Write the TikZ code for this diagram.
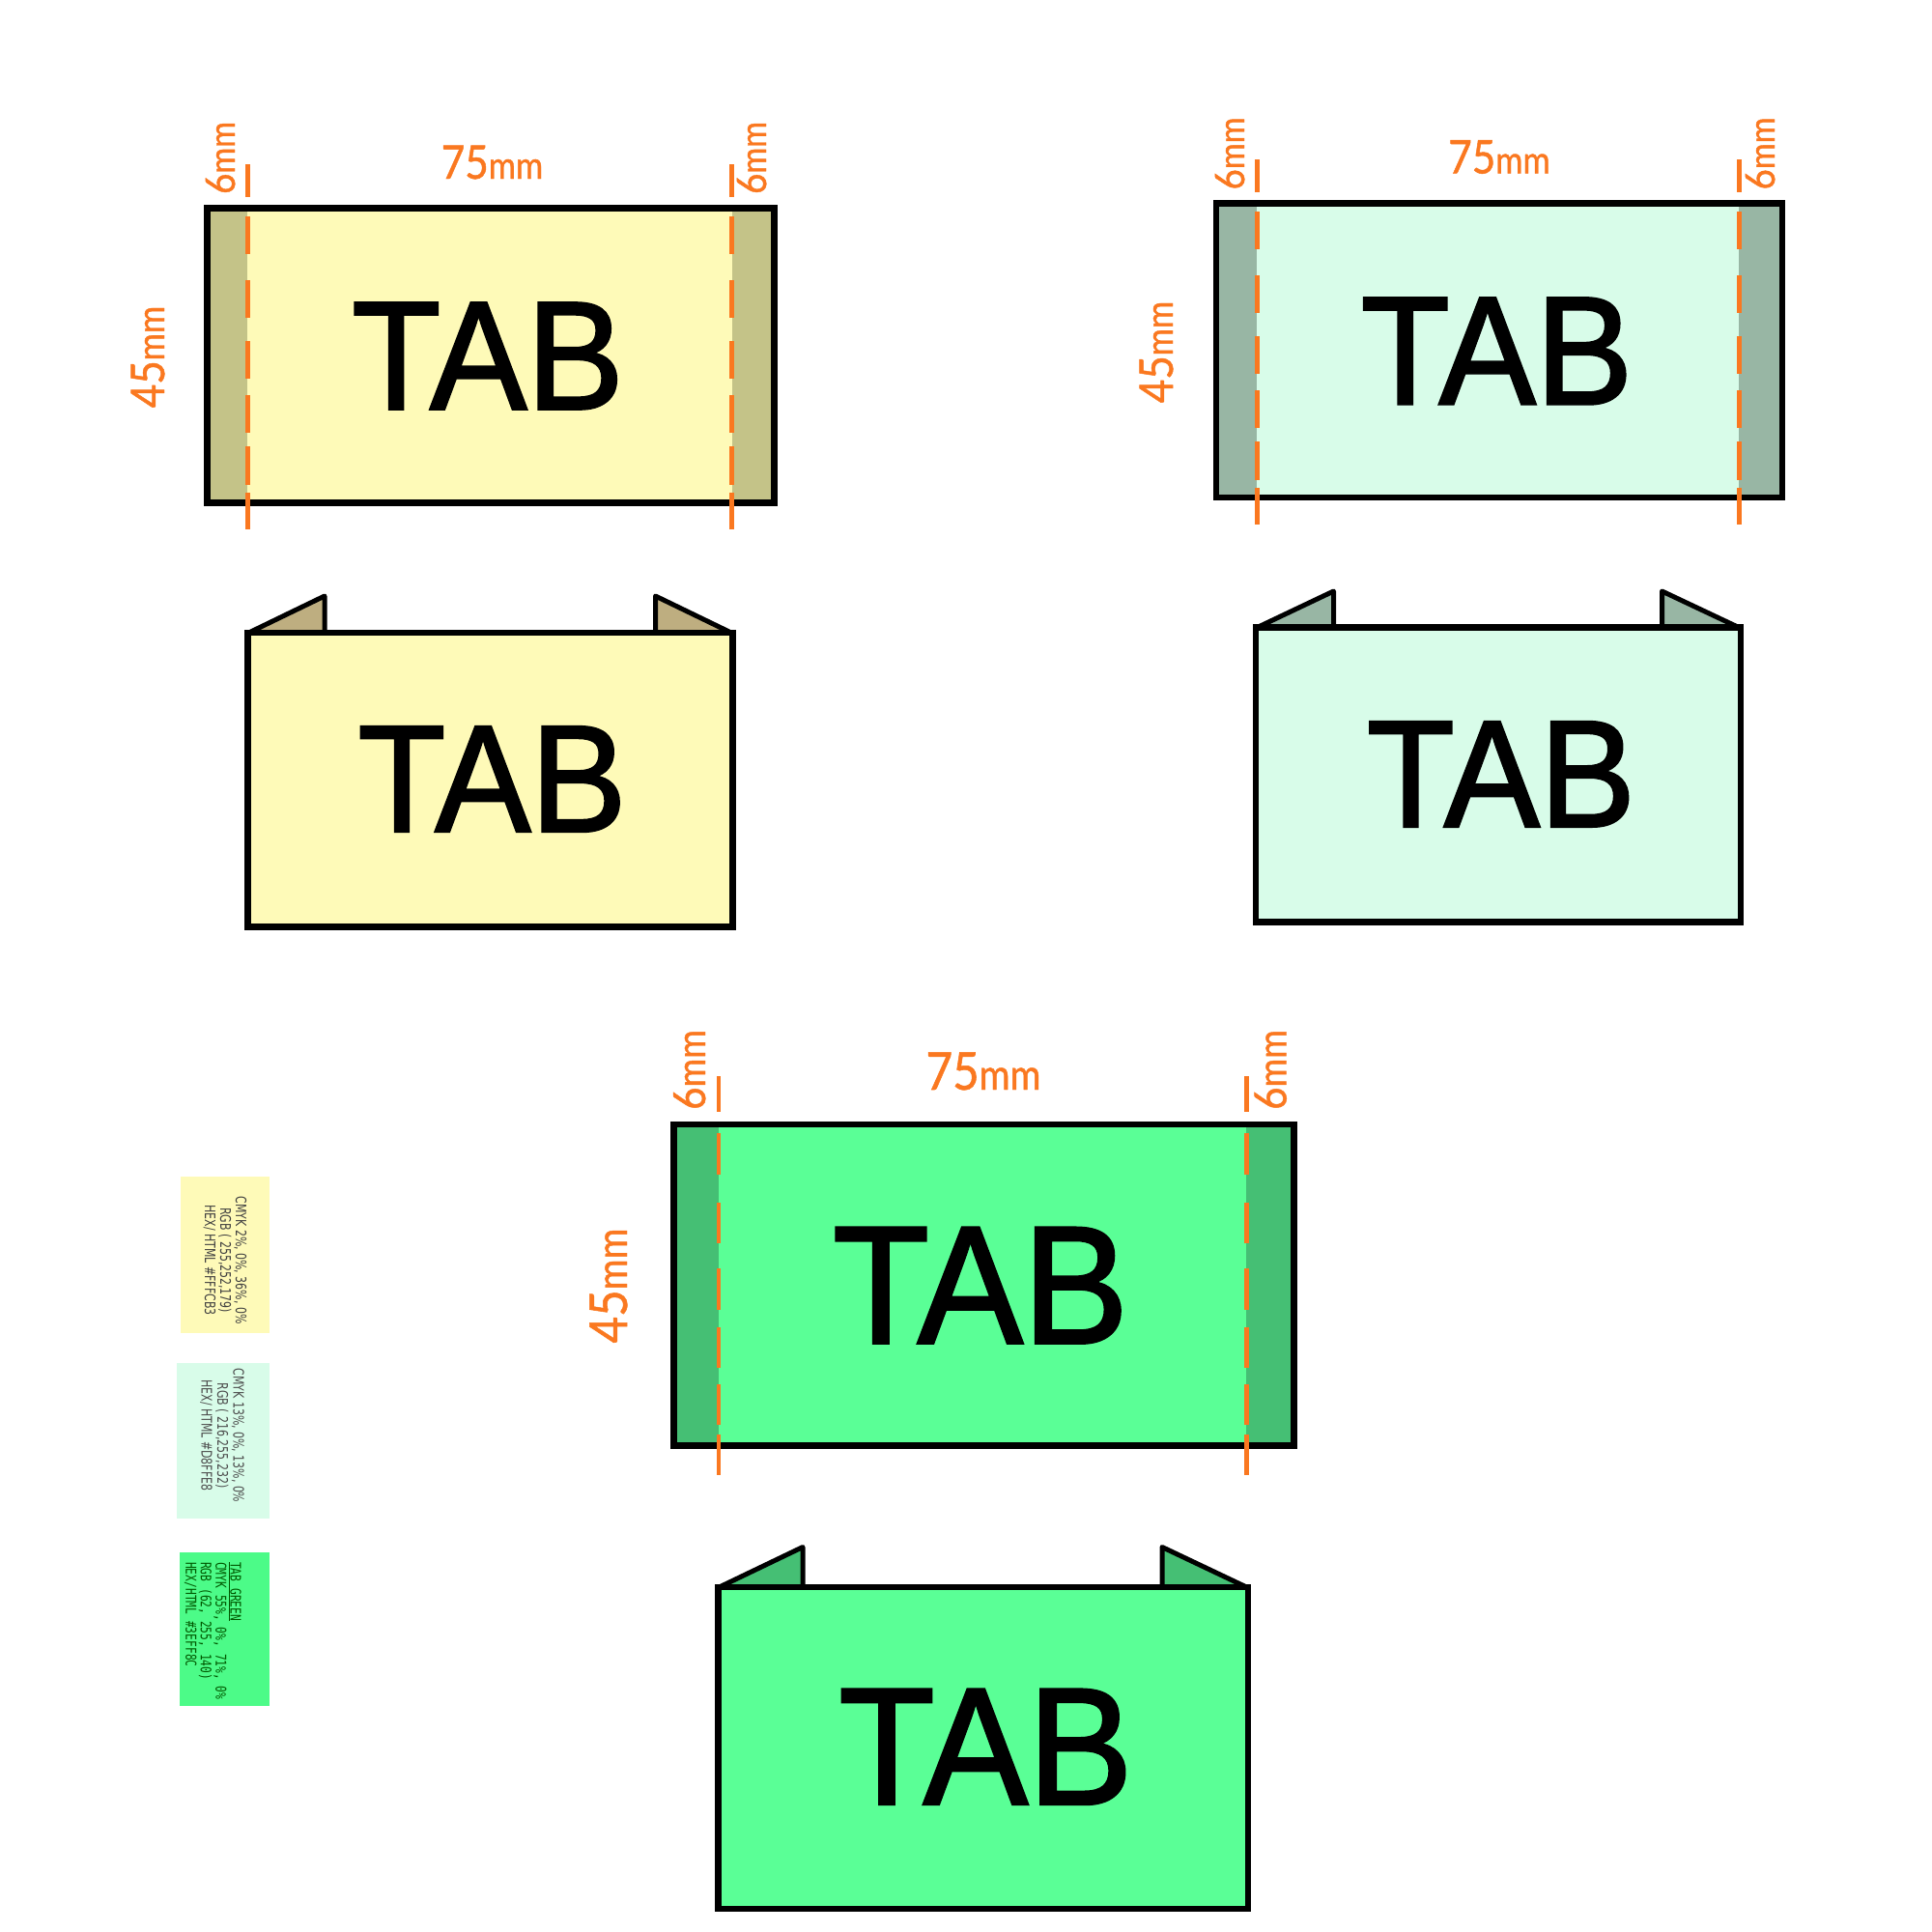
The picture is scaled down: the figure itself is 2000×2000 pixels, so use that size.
\documentclass[tikz,border=0pt]{standalone}
\usepackage{fontspec}
\setmainfont{Liberation Sans}
\newfontfamily\tabfont[FakeStretch=0.94,FakeBold=1.6]{Liberation Sans}
\newfontfamily\sizefont[FakeStretch=0.88,FakeBold=1]{Lato}
\newfontfamily\notefont[FakeStretch=0.73]{DejaVu Sans}
\newfontfamily\monofont[FakeStretch=0.75]{DejaVu Sans Mono}
\definecolor{yellowface}{HTML}{FEFAB8}
\definecolor{yellowtab}{HTML}{C4C388}
\definecolor{yellowflap}{HTML}{BEAE80}
\definecolor{tealface}{HTML}{D8FCE9}
\definecolor{tealtab}{HTML}{98B6A4}
\definecolor{greenface}{HTML}{5AFF96}
\definecolor{greentab}{HTML}{45BF74}
\definecolor{greenswatch}{HTML}{4CFB88}
\definecolor{cutline}{HTML}{FA7820}
\newcommand{\bigsize}[2]{{\fontsize{48}{48}\selectfont #1}{\fontsize{39}{39}\selectfont #2}}
\newcommand{\smallsize}[2]{{\fontsize{42}{42}\selectfont #1}{\fontsize{37}{37}\selectfont #2}}
\newcommand{\biggreen}[2]{{\fontsize{54}{54}\selectfont #1}{\fontsize{44}{44}\selectfont #2}}
\newcommand{\smallgreen}[2]{{\fontsize{46}{46}\selectfont #1}{\fontsize{41}{41}\selectfont #2}}
\begin{document}
\begin{tikzpicture}[x=1pt,y=-1pt,
  sheet/.style={rectangle,draw=black,line width=6.5pt,inner sep=0,outer sep=0},
  tabface/.style={rectangle,inner sep=0,outer sep=0,minimum height=1pt},
  flap/.style={draw=black,line width=5pt,line join=round},
  cut/.style={draw=cutline,line width=4.5pt},
  cutplain/.style={cut,dash pattern=on 34pt off 20pt on 39pt off 27pt on 39pt off 24pt on 39pt off 17pt on 39pt off 14pt on 40pt off 8pt on 38pt off 60pt},
  cutgreen/.style={cut,dash pattern=on 37pt off 22pt on 43pt off 29pt on 42pt off 26pt on 43pt off 18pt on 42pt off 17pt on 42pt off 10pt on 42pt off 60pt},
  sizelabel/.style={text=cutline,font=\sizefont,inner sep=0,anchor=base},
  tablabel/.style={font=\tabfont,inner sep=0,text=black},
  swatch/.style={rectangle,inner sep=0,outer sep=0}]
  \useasboundingbox (0,0) rectangle (2000,2000);
  % yellow, flat
  \node[sheet,fill=yellowface,minimum width=587pt,minimum height=305pt] (Ysheet) at (508,368) {};
  \node[tabface,fill=yellowtab,minimum width=38.5pt,minimum height=298.5pt] (Ytab1) at (237,368) {};
  \node[tabface,fill=yellowtab,minimum width=40.75pt,minimum height=298.5pt] (Ytab2) at (777.9,368) {};
  \node[tablabel] (Ytext) at (505,368.5) {\fontsize{160}{160}\selectfont TAB};
  \coordinate (Yc1) at (256.5,170);
  \coordinate (Yd1) at (256.5,548);
  \coordinate (Yc2) at (757.5,170);
  \coordinate (Yd2) at (757.5,548);
  \draw[cutplain] (Yc1) -- (Yd1);
  \draw[cutplain] (Yc2) -- (Yd2);
  \node[sizelabel] (Ywidth) at (509.5,185) {\bigsize{75}{mm}};
  \node[sizelabel,rotate=90] (Yleft) at (243,163.5) {\smallsize{6}{mm}};
  \node[sizelabel,rotate=90] (Yright) at (793,163.5) {\smallsize{6}{mm}};
  \node[sizelabel,rotate=90] (Yheight) at (170,369.5) {\bigsize{45}{mm}};
  % yellow, folded
  \coordinate (Yf1) at (256.5,655.5);
  \coordinate (Yf2) at (336,617);
  \coordinate (Yf3) at (336,655.5);
  \coordinate (Yf4) at (758,655.5);
  \coordinate (Yf5) at (678.5,617);
  \coordinate (Yf6) at (678.5,655.5);
  \draw[flap,fill=yellowflap] (Yf1) -- (Yf2) -- (Yf3) -- cycle;
  \draw[flap,fill=yellowflap] (Yf4) -- (Yf5) -- (Yf6) -- cycle;
  \node[sheet,fill=yellowface,minimum width=502pt,minimum height=304.5pt] (Yfold) at (507.5,807.25) {};
  \node[tablabel] (Yfoldtext) at (509.5,806.5) {\fontsize{158}{158}\selectfont TAB};
  % teal, flat
  \node[sheet,fill=tealface,minimum width=586pt,minimum height=304.5pt] (Tsheet) at (1551.9,362.75) {};
  \node[tabface,fill=tealtab,minimum width=39pt,minimum height=298pt] (Ttab1) at (1281.5,362.75) {};
  \node[tabface,fill=tealtab,minimum width=41.15pt,minimum height=298pt] (Ttab2) at (1821,362.75) {};
  \node[tablabel] (Ttext) at (1549.5,363.4) {\fontsize{160}{160}\selectfont TAB};
  \coordinate (Tc1) at (1301.5,165);
  \coordinate (Td1) at (1301.5,543);
  \coordinate (Tc2) at (1800.5,165);
  \coordinate (Td2) at (1800.5,543);
  \draw[cutplain] (Tc1) -- (Td1);
  \draw[cutplain] (Tc2) -- (Td2);
  \node[sizelabel] (Twidth) at (1552,179.5) {\bigsize{75}{mm}};
  \node[sizelabel,rotate=90] (Tleft) at (1288,159) {\smallsize{6}{mm}};
  \node[sizelabel,rotate=90] (Tright) at (1837,159) {\smallsize{6}{mm}};
  \node[sizelabel,rotate=90] (Theight) at (1214,364.5) {\bigsize{45}{mm}};
  % teal, folded
  \coordinate (Tf1) at (1300.5,650);
  \coordinate (Tf2) at (1380.5,612);
  \coordinate (Tf3) at (1380.5,650);
  \coordinate (Tf4) at (1801,650);
  \coordinate (Tf5) at (1720.5,612);
  \coordinate (Tf6) at (1720.5,650);
  \draw[flap,fill=tealtab] (Tf1) -- (Tf2) -- (Tf3) -- cycle;
  \draw[flap,fill=tealtab] (Tf4) -- (Tf5) -- (Tf6) -- cycle;
  \node[sheet,fill=tealface,minimum width=502pt,minimum height=305pt] (Tfold) at (1551.2,802) {};
  \node[tablabel] (Tfoldtext) at (1554,801.4) {\fontsize{158}{158}\selectfont TAB};
  % green, flat
  \node[sheet,fill=greenface,minimum width=642pt,minimum height=332.5pt] (Gsheet) at (1018.6,1330.2) {};
  \node[tabface,fill=greentab,minimum width=43pt,minimum height=326pt] (Gtab1) at (722.3,1330.2) {};
  \node[tabface,fill=greentab,minimum width=45.85pt,minimum height=326pt] (Gtab2) at (1313.4,1330.2) {};
  \node[tablabel] (Gtext) at (1015,1330.7) {\fontsize{174}{174}\selectfont TAB};
  \coordinate (Gc1) at (744,1114);
  \coordinate (Gd1) at (744,1527);
  \coordinate (Gc2) at (1290.5,1114);
  \coordinate (Gd2) at (1290.5,1527);
  \draw[cutgreen] (Gc1) -- (Gd1);
  \draw[cutgreen] (Gc2) -- (Gd2);
  \node[sizelabel] (Gwidth) at (1018,1128) {\biggreen{75}{mm}};
  \node[sizelabel,rotate=90] (Gleft) at (730,1107.5) {\smallgreen{6}{mm}};
  \node[sizelabel,rotate=90] (Gright) at (1331.5,1107.5) {\smallgreen{6}{mm}};
  \node[sizelabel,rotate=90] (Gheight) at (649,1331) {\biggreen{45}{mm}};
  % green, folded
  \coordinate (Gf1) at (743.5,1643.5);
  \coordinate (Gf2) at (831,1601.5);
  \coordinate (Gf3) at (831,1643.5);
  \coordinate (Gf4) at (1291.5,1643.5);
  \coordinate (Gf5) at (1203,1601.5);
  \coordinate (Gf6) at (1203,1643.5);
  \draw[flap,fill=greentab] (Gf1) -- (Gf2) -- (Gf3) -- cycle;
  \draw[flap,fill=greentab] (Gf4) -- (Gf5) -- (Gf6) -- cycle;
  \node[sheet,fill=greenface,minimum width=548.5pt,minimum height=333pt] (Gfold) at (1017.85,1809.6) {};
  \node[tablabel] (Gfoldtext) at (1020.5,1808.3) {\fontsize{173}{173}\selectfont TAB};
  % colour notes
  \node[swatch,fill=yellowface,minimum width=92pt,minimum height=162pt] (Ynote) at (233,1299) {};
  \node[rotate=-90,align=center,inner sep=0,text=black!75,font=\notefont\fontsize{15}{16}\selectfont] (Ynotetext) at (233,1304.7) {CMYK 2\%, 0\%, 36\%, 0\%\\RGB ( 255,252,179)\\HEX/ HTML \#FFFCB3};
  \node[swatch,fill=tealface,minimum width=96pt,minimum height=161pt] (Tnote) at (231,1491.5) {};
  \node[rotate=-90,align=center,inner sep=0,text=black!70,font=\notefont\fontsize{15}{16.5}\selectfont] (Tnotetext) at (230,1486) {CMYK 13\%, 0\%, 13\%, 0\%\\RGB ( 216,255,232)\\HEX/ HTML \#D8FFE8};
  \node[swatch,fill=greenswatch,minimum width=93pt,minimum height=159pt] (Gnote) at (232.5,1686.5) {};
  \node[rotate=-90,anchor=north west,align=left,inner sep=0,text=green!35!black,font=\monofont\fontsize{15}{15.4}\selectfont] (Gnotetext) at (250,1617) {\underline{TAB GREEN}\\CMYK 55\%, 0\%, 71\%, 0\%\\RGB (62, 255, 140)\\HEX/HTML \#3EFF8C};
\end{tikzpicture}
\end{document}
